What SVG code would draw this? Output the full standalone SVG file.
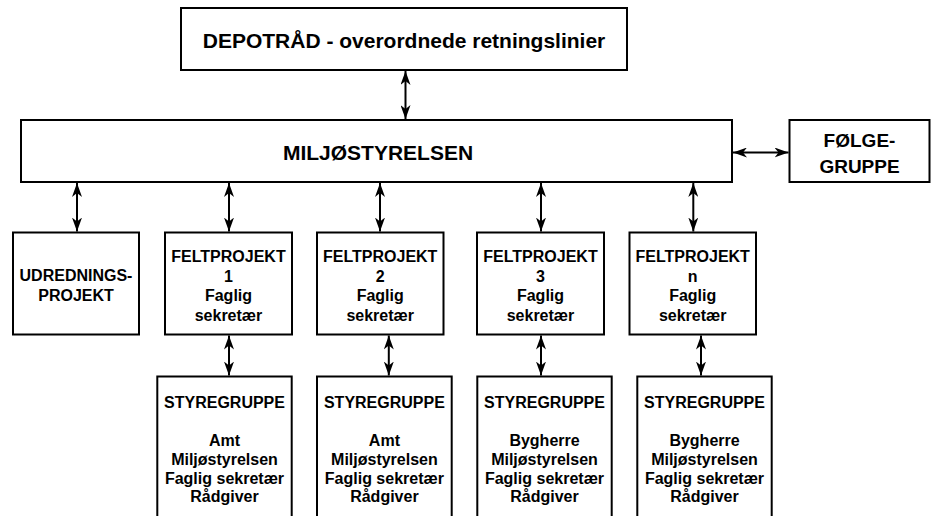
<svg xmlns="http://www.w3.org/2000/svg" width="931" height="516" viewBox="0 0 931 516">
<style>
  .box { fill: #ffffff; stroke: #000000; stroke-width: 2; }
  .t { font-family: "Liberation Sans", Arial, sans-serif; font-weight: bold; fill: #000000; text-anchor: middle; }
  .t16 { font-size: 16px; }
  .t19 { font-size: 19px; }
  .t21 { font-size: 21px; }
  .c { stroke: #000000; stroke-width: 2; fill: none; marker-start: url(#ah); marker-end: url(#ah); }
</style>
<defs>
  <marker id="ah" viewBox="0 0 14 10" refX="14" refY="5" markerWidth="14" markerHeight="10" markerUnits="userSpaceOnUse" orient="auto-start-reverse">
    <path d="M0,0 L14,5 L0,10 L4,5 Z" fill="#000000"/>
  </marker>
</defs>
<rect width="931" height="516" fill="#ffffff"/>

<g id="depotraad">
  <rect class="box" x="181" y="8" width="446" height="62"/>
  <text class="t t21" x="404" y="48">DEPOTRÅD - overordnede retningslinier</text>
</g>
<g id="miljostyrelsen">
  <rect class="box" x="21" y="120" width="711" height="62"/>
  <text class="t t21" x="378" y="160">MILJØSTYRELSEN</text>
</g>
<g id="folgegruppe">
  <rect class="box" x="789.5" y="120" width="140" height="62"/>
  <text class="t t19" x="859.5" y="147">FØLGE-</text>
  <text class="t t19" x="859.5" y="173">GRUPPE</text>
</g>
<g id="udredningsprojekt">
  <rect class="box" x="13" y="232.5" width="126" height="102"/>
  <text class="t t16" x="76" y="281">UDREDNINGS-</text>
  <text class="t t16" x="76" y="300.5">PROJEKT</text>
</g>
<g id="feltprojekt1">
  <rect class="box" x="165" y="232.5" width="127" height="102"/>
  <text class="t t16" x="228.5" y="262">FELTPROJEKT</text>
  <text class="t t16" x="228.5" y="281.5">1</text>
  <text class="t t16" x="228.5" y="301">Faglig</text>
  <text class="t t16" x="228.5" y="320.5">sekretær</text>
</g>
<g id="feltprojekt2">
  <rect class="box" x="317" y="232.5" width="126.5" height="102"/>
  <text class="t t16" x="380.2" y="262">FELTPROJEKT</text>
  <text class="t t16" x="380.2" y="281.5">2</text>
  <text class="t t16" x="380.2" y="301">Faglig</text>
  <text class="t t16" x="380.2" y="320.5">sekretær</text>
</g>
<g id="feltprojekt3">
  <rect class="box" x="477" y="232.5" width="127" height="102"/>
  <text class="t t16" x="540.5" y="262">FELTPROJEKT</text>
  <text class="t t16" x="540.5" y="281.5">3</text>
  <text class="t t16" x="540.5" y="301">Faglig</text>
  <text class="t t16" x="540.5" y="320.5">sekretær</text>
</g>
<g id="feltprojektn">
  <rect class="box" x="629.5" y="232.5" width="126.5" height="102"/>
  <text class="t t16" x="692.7" y="262">FELTPROJEKT</text>
  <text class="t t16" x="692.7" y="281.5">n</text>
  <text class="t t16" x="692.7" y="301">Faglig</text>
  <text class="t t16" x="692.7" y="320.5">sekretær</text>
</g>
<g id="styregruppe1">
  <rect class="box" x="157.3" y="376.5" width="134.4" height="160"/>
  <text class="t t16" x="224.5" y="408.3">STYREGRUPPE</text>
  <text class="t t16" x="224.5" y="445.5">Amt</text>
  <text class="t t16" x="224.5" y="465">Miljøstyrelsen</text>
  <text class="t t16" x="224.5" y="483.5">Faglig sekretær</text>
  <text class="t t16" x="224.5" y="502">Rådgiver</text>
</g>
<g id="styregruppe2">
  <rect class="box" x="317" y="376.5" width="134.7" height="160"/>
  <text class="t t16" x="384.4" y="408.3">STYREGRUPPE</text>
  <text class="t t16" x="384.4" y="445.5">Amt</text>
  <text class="t t16" x="384.4" y="465">Miljøstyrelsen</text>
  <text class="t t16" x="384.4" y="483.5">Faglig sekretær</text>
  <text class="t t16" x="384.4" y="502">Rådgiver</text>
</g>
<g id="styregruppe3">
  <rect class="box" x="477.3" y="376.5" width="134.4" height="160"/>
  <text class="t t16" x="544.5" y="408.3">STYREGRUPPE</text>
  <text class="t t16" x="544.5" y="445.5">Bygherre</text>
  <text class="t t16" x="544.5" y="465">Miljøstyrelsen</text>
  <text class="t t16" x="544.5" y="483.5">Faglig sekretær</text>
  <text class="t t16" x="544.5" y="502">Rådgiver</text>
</g>
<g id="styregruppe4">
  <rect class="box" x="637.3" y="376.5" width="134.4" height="160"/>
  <text class="t t16" x="704.5" y="408.3">STYREGRUPPE</text>
  <text class="t t16" x="704.5" y="445.5">Bygherre</text>
  <text class="t t16" x="704.5" y="465">Miljøstyrelsen</text>
  <text class="t t16" x="704.5" y="483.5">Faglig sekretær</text>
  <text class="t t16" x="704.5" y="502">Rådgiver</text>
</g>

<g id="connectors">
  <line class="c" x1="405.5" y1="71" x2="405.5" y2="119"/>
  <line class="c" x1="733" y1="152.5" x2="788.5" y2="152.5"/>
  <line class="c" x1="77" y1="183" x2="77" y2="231.5"/>
  <line class="c" x1="229" y1="183" x2="229" y2="231.5"/>
  <line class="c" x1="380" y1="183" x2="380" y2="231.5"/>
  <line class="c" x1="541" y1="183" x2="541" y2="231.5"/>
  <line class="c" x1="693.3" y1="183" x2="693.3" y2="231.5"/>
  <line class="c" x1="229" y1="335.5" x2="229" y2="375.5"/>
  <line class="c" x1="388.8" y1="335.5" x2="388.8" y2="375.5"/>
  <line class="c" x1="541" y1="335.5" x2="541" y2="375.5"/>
  <line class="c" x1="701" y1="335.5" x2="701" y2="375.5"/>
</g>
</svg>
